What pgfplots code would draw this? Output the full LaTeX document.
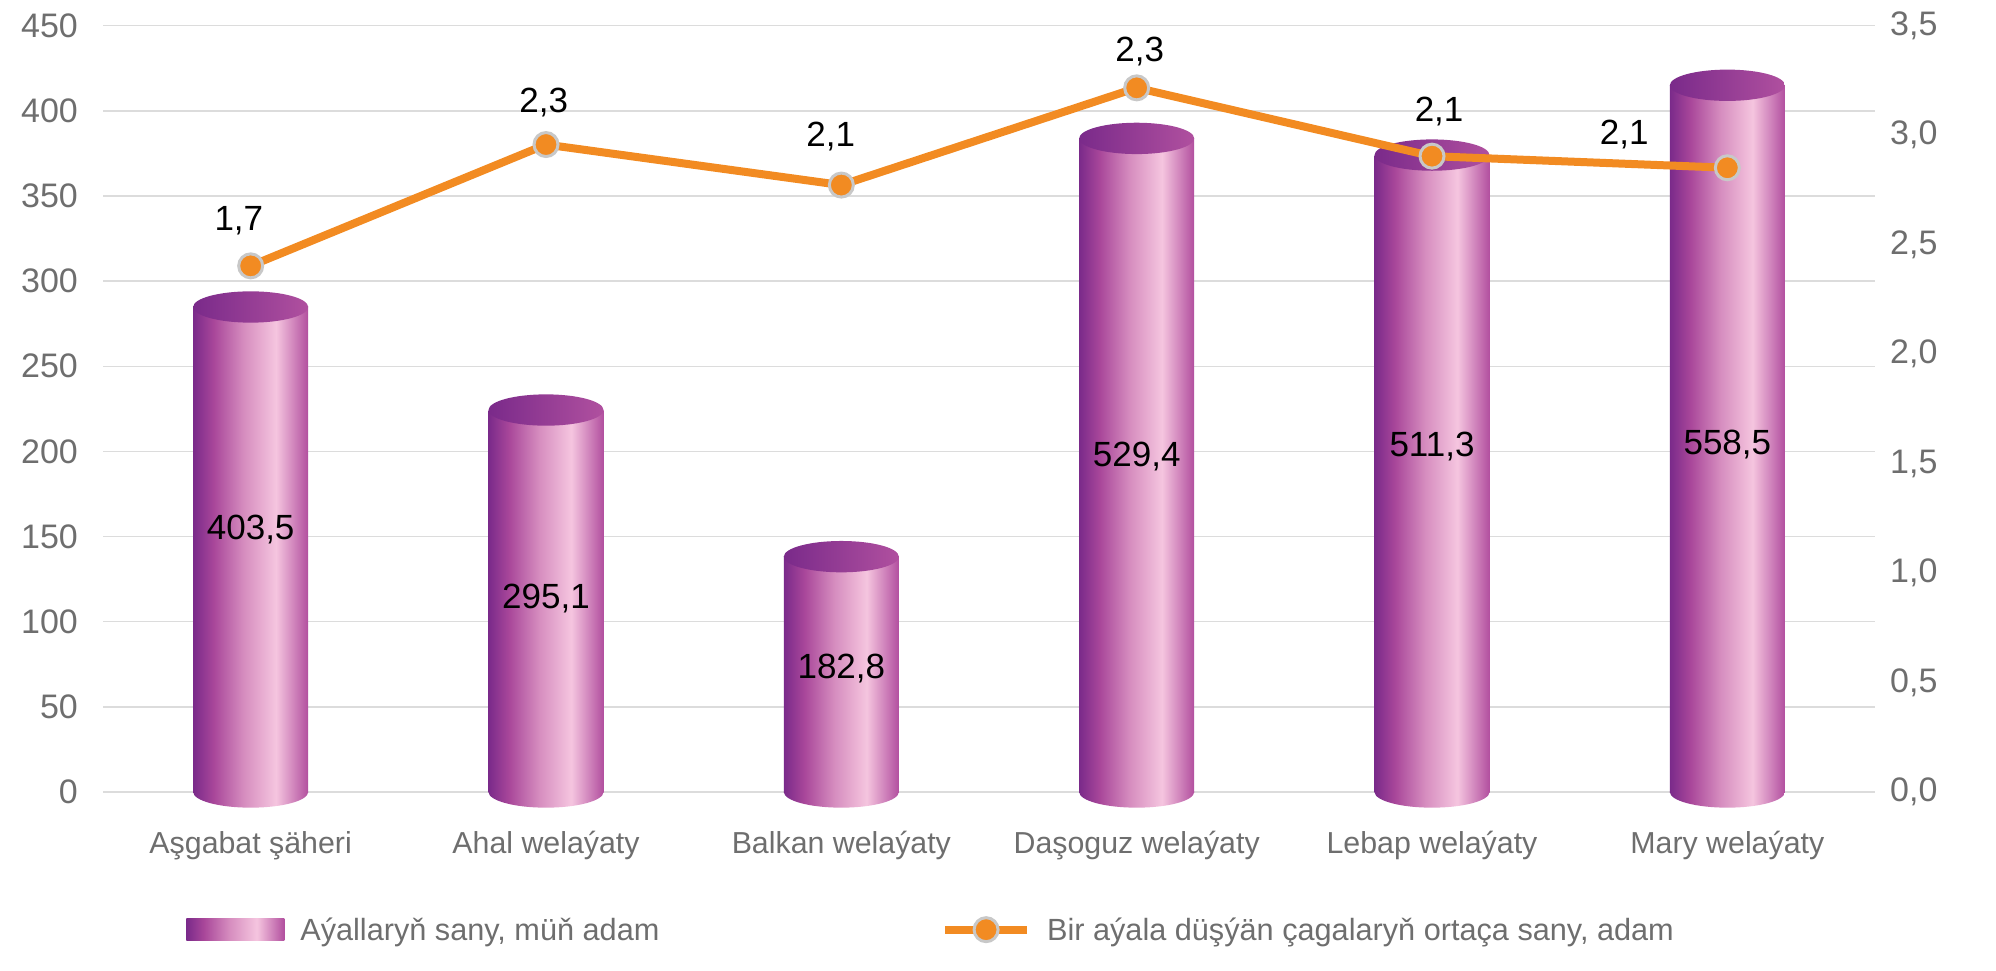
\documentclass[border=0pt]{standalone}
\usepackage{fontspec}
\setmainfont{Liberation Sans}
\usepackage{pgfplots}
\usepackage{pgfplotstable}
\pgfplotsset{compat=1.18}
\usetikzlibrary{shapes.geometric}

\definecolor{purD}{HTML}{7A2A8A}
\definecolor{purM}{HTML}{A9479A}
\definecolor{pinkM}{HTML}{D68DBF}
\definecolor{pinkL}{HTML}{F5C5DF}
\definecolor{purR}{HTML}{B24F9F}
\definecolor{topL}{HTML}{7A2A8A}
\definecolor{topR}{HTML}{B0509F}
\definecolor{lineor}{HTML}{F28B22}
\definecolor{markgray}{HTML}{C8C8C8}
\definecolor{tickgray}{HTML}{6E6E6E}
\definecolor{gridgray}{HTML}{DCDCDC}

% shadings: the useful part lies between 25bp and 75bp
\pgfdeclarehorizontalshading{cyl}{100bp}{color(0bp)=(purD); color(25bp)=(purD); color(34bp)=(purM); color(47bp)=(pinkM); color(61bp)=(pinkL); color(75bp)=(purR); color(100bp)=(purR)}
\pgfdeclarehorizontalshading{cyltop}{100bp}{color(0bp)=(topL); color(25bp)=(topL); color(75bp)=(topR); color(100bp)=(topR)}

\tikzset{cylend/.style={ellipse, minimum width=34.5pt, minimum height=9.4pt, inner sep=0pt,
  draw=none, shade, shading=#1, anchor=center}}

% bar: drawn height on left axis, label and label position
\pgfplotstableread{
x zero bar lab labpos
0 0 284.8 403,5 154
1 0 224.3 295,1 113.5
2 0 138.2 182,8 72.5
3 0 383.8 529,4 197
4 0 374.0 511,3 203
5 0 415.0 558,5 204
}\bars

% line: value on right axis, label and label position
\pgfplotstableread{
x y lab lx ly
0 2.403 1,7 -0.040 2.607
1 2.957 2,3 0.992 3.148
2 2.772 2,1 1.964 2.992
3 3.216 2,3 3.010 3.380
4 2.904 2,1 4.024 3.110
5 2.851 2,1 4.651 3.005
}\ratio

\begin{document}
\begin{tikzpicture}
\begin{axis}[
  name=ax,
  scale only axis, width=531.6pt, height=229.9pt,
  xmin=-0.5, xmax=5.5, ymin=0, ymax=450,
  xtick={0,...,5},
  xticklabels={Aşgabat şäheri, Ahal welaýaty, Balkan welaýaty, Daşoguz welaýaty, Lebap welaýaty, Mary welaýaty},
  ytick distance=50,
  ymajorgrids, grid style={gridgray, line width=0.45pt},
  axis line style={draw=none}, tick style={draw=none},
  major tick length=0pt,
  ytick pos=left, xtick pos=bottom,
  /pgf/number format/assume math mode=true,
  yticklabel style={font=\fontsize{10.2}{12}\selectfont, text=tickgray, xshift=-4.0pt},
  xticklabel style={font=\fontsize{9.1}{11}\selectfont, text=tickgray, text height=7pt, text depth=2pt, yshift=-8pt},
  clip=false,
]
% bottom ends of the cylinders
\addplot[draw=none, mark=none, nodes near coords={},
  every node near coord/.append style={cylend=cyl}] table[x=x, y=zero] {\bars};
\pgfplotsinvokeforeach{0,...,5}{
  \addplot[ybar, bar width=34.5pt, bar shift=0pt, draw=none, shade, shading=cyl,
    restrict x to domain=#1:#1] table[x=x, y=bar] {\bars};
}
% top ends
\addplot[draw=none, mark=none, nodes near coords={},
  every node near coord/.append style={cylend=cyltop}] table[x=x, y=bar] {\bars};
\addplot[draw=none, mark=none, nodes near coords, point meta=explicit symbolic,
  every node near coord/.append style={anchor=center, font=\fontsize{10.5}{12}\selectfont, text=black}]
  table[x=x, y=labpos, meta=lab] {\bars};
\end{axis}

\begin{axis}[
  scale only axis, width=531.6pt, height=229.9pt,
  xmin=-0.5, xmax=5.5, ymin=0, ymax=3.5,
  hide x axis,
  axis y line*=right,
  y axis line style={draw=none},
  ytick distance=0.5,
  ytick style={draw=none}, major tick length=0pt,
  /pgf/number format/.cd, use comma, fixed, fixed zerofill, precision=1, assume math mode=true, /pgfplots/.cd,
  yticklabel style={font=\fontsize{10.2}{12}\selectfont, text=tickgray, xshift=1pt},
  clip=false,
  legend columns=2,
  legend style={draw=none, fill=none, at={(0,0)}, anchor=west, xshift=24.8pt, yshift=-41.9pt,
    inner sep=0pt, font=\fontsize{9.2}{11}\selectfont, text=tickgray,
    nodes={inner sep=0pt, text height=6.6pt, text depth=1.9pt},
    /tikz/every odd column/.append style={column sep=4.8pt},
    /tikz/every even column/.append style={column sep=84.5pt}},
]
\addlegendimage{legend image code/.code={\shade[draw=none, shading=cyl] (0pt,-2.3pt) rectangle (29.4pt,4.3pt);}}
\addlegendentry{Aýallaryň sany, müň adam}
\addplot[lineor, line width=2.4pt, mark=*, mark size=3.6pt,
  mark options={fill=lineor, draw=markgray, line width=0.9pt},
  legend image code/.code={\draw[lineor, line width=2.4pt] (0pt,1pt) -- (24.6pt,1pt);
    \draw[fill=lineor, draw=markgray, line width=0.9pt] (12.3pt,1pt) circle (3.6pt);}]
  table[x=x, y=y] {\ratio};
\addlegendentry{Bir aýala düşýän çagalaryň ortaça sany, adam}
\addplot[draw=none, mark=none, nodes near coords, point meta=explicit symbolic,
  every node near coord/.append style={anchor=center, font=\fontsize{10.5}{12}\selectfont, text=black},
  forget plot]
  table[x=lx, y=ly, meta=lab] {\ratio};
\end{axis}
\path ([shift={(-30.9pt,-53.4pt)}]ax.south west) rectangle ([shift={(36.3pt,7.7pt)}]ax.north east);
\end{tikzpicture}
\end{document}
